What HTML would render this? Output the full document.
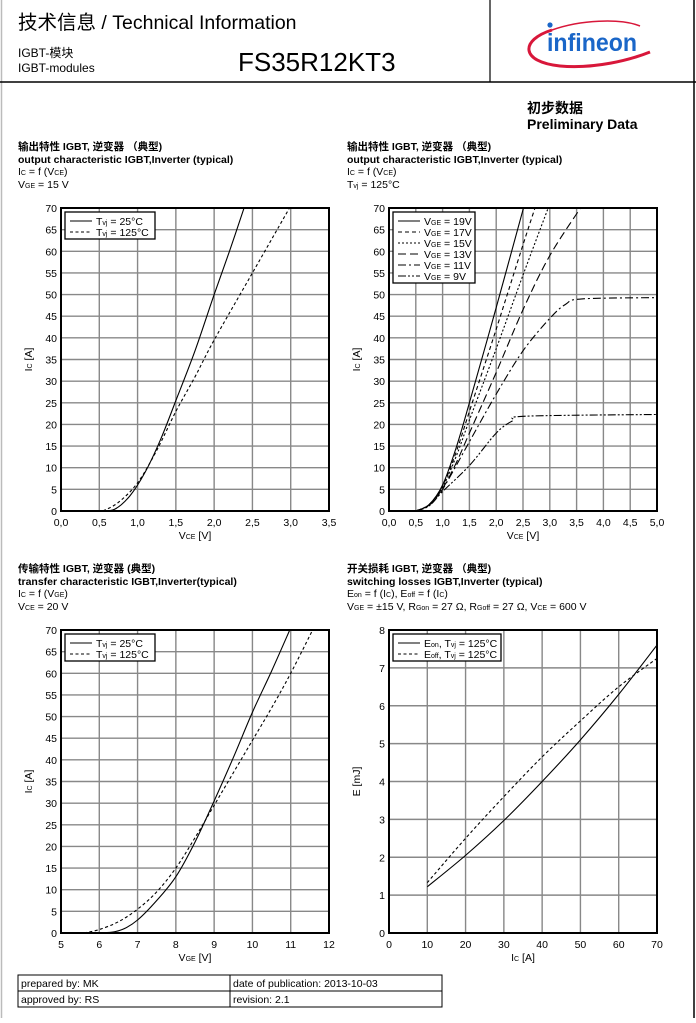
<!DOCTYPE html>
<html><head><meta charset="utf-8">
<style>
body{margin:0;background:#fff;}
svg text{font-family:"Liberation Sans","Noto Sans CJK SC",sans-serif;fill:#000;}
</style></head><body>
<svg id="s" xmlns="http://www.w3.org/2000/svg" width="696" height="1018" viewBox="0 0 696 1018">
<rect x="0" y="0" width="696" height="1018" fill="#fff"/>
<line x1="1.5" y1="0" x2="1.5" y2="1018" stroke="#bbb" stroke-width="1.5"/>
<line x1="694" y1="0" x2="694" y2="1018" stroke="#000" stroke-width="1.5"/>
<line x1="0" y1="82" x2="696" y2="82" stroke="#000" stroke-width="1.5"/>
<line x1="490" y1="0" x2="490" y2="82" stroke="#000" stroke-width="1.2"/>
<text x="18" y="29" font-size="19.5">技术信息 / Technical Information</text>
<text x="18" y="57" font-size="12">IGBT-模块</text>
<text x="18" y="72" font-size="12">IGBT-modules</text>
<text x="238" y="71" font-size="26">FS35R12KT3</text>
<path d="M552 30 C 520 40, 520 62, 560 66 C 595 69, 630 60, 650 52" fill="none" stroke="#d8173a" stroke-width="3"/>
<path d="M552 30 C 580 20, 620 18, 640 26" fill="none" stroke="#d8173a" stroke-width="1.5"/>
<circle cx="550" cy="25" r="2.6" fill="#1a66c8"/>
<text x="547" y="51" font-size="25" font-weight="bold" style="fill:#1a66c8" textLength="90" lengthAdjust="spacingAndGlyphs">infineon</text>
<text x="527" y="113" font-size="14" font-weight="bold">初步数据</text>
<text x="527" y="129" font-size="14" font-weight="bold">Preliminary Data</text>
<g font-size="10.5">
<text x="18" y="150" font-weight="bold">输出特性 IGBT, 逆变器 （典型)</text>
<text x="18" y="163" font-weight="bold">output characteristic IGBT,Inverter (typical)</text>
<text x="18" y="175">I<tspan font-size="7">C</tspan> = f (V<tspan font-size="7">CE</tspan>)</text>
<text x="18" y="188">V<tspan font-size="7">GE</tspan> = 15 V</text>
<text x="347" y="150" font-weight="bold">输出特性 IGBT, 逆变器 （典型)</text>
<text x="347" y="163" font-weight="bold">output characteristic IGBT,Inverter (typical)</text>
<text x="347" y="175">I<tspan font-size="7">C</tspan> = f (V<tspan font-size="7">CE</tspan>)</text>
<text x="347" y="188">T<tspan font-size="7">vj</tspan> = 125°C</text>
<text x="18" y="572" font-weight="bold">传输特性 IGBT, 逆变器 (典型)</text>
<text x="18" y="585" font-weight="bold">transfer characteristic  IGBT,Inverter(typical)</text>
<text x="18" y="597">I<tspan font-size="7">C</tspan> = f (V<tspan font-size="7">GE</tspan>)</text>
<text x="18" y="610">V<tspan font-size="7">CE</tspan> = 20 V</text>
<text x="347" y="572" font-weight="bold">开关损耗 IGBT, 逆变器 （典型)</text>
<text x="347" y="585" font-weight="bold">switching losses  IGBT,Inverter (typical)</text>
<text x="347" y="597">E<tspan font-size="7">on</tspan> = f (I<tspan font-size="7">C</tspan>), E<tspan font-size="7">off</tspan> = f (I<tspan font-size="7">C</tspan>)</text>
<text x="347" y="610">V<tspan font-size="7">GE</tspan> = ±15 V, R<tspan font-size="7">Gon</tspan> = 27 Ω, R<tspan font-size="7">Goff</tspan> = 27 Ω, V<tspan font-size="7">CE</tspan> = 600 V</text>
</g>
<g fill="none" stroke="#000" stroke-width="1">
<rect x="18" y="975" width="424" height="32"/>
<line x1="18" y1="991" x2="442" y2="991"/>
<line x1="230" y1="975" x2="230" y2="1007"/>
</g>
<g font-size="10.5">
<text x="21" y="987">prepared by: MK</text>
<text x="233" y="987">date of publication: 2013-10-03</text>
<text x="21" y="1003">approved by: RS</text>
<text x="233" y="1003">revision: 2.1</text>
</g>
<g id="charts"></g>
</svg>
<script>
var G=document.getElementById("charts"),out="";
function chart(o){
 var L=o.x,T=o.y,W=268,H=303;
 function X(v){return L+(v-o.xmin)/(o.xmax-o.xmin)*W;}
 function Y(v){return T+H-(v-o.ymin)/(o.ymax-o.ymin)*H;}
 var s="";
 o.xt.forEach(function(v,i){var x=X(v);s+='<line x1="'+x+'" y1="'+T+'" x2="'+x+'" y2="'+(T+H)+'" stroke="#888" stroke-width="1.4"/>';
  s+='<text x="'+x+'" y="'+(T+H+15)+'" font-size="10.5" text-anchor="middle">'+o.xl[i]+'</text>';});
 o.yt.forEach(function(v){var y=Y(v);s+='<line x1="'+L+'" y1="'+y+'" x2="'+(L+W)+'" y2="'+y+'" stroke="#888" stroke-width="1.4"/>';
  s+='<text x="'+(L-4)+'" y="'+(y+4)+'" font-size="10.5" text-anchor="end">'+v+'</text>';});
 s+='<rect x="'+L+'" y="'+T+'" width="'+W+'" height="'+H+'" fill="none" stroke="#000" stroke-width="2"/>';
 s+='<text x="'+(L+W/2)+'" y="'+(T+H+28)+'" font-size="10.5" text-anchor="middle">'+o.xlab+'</text>';
 s+='<text transform="translate('+(o.x-29)+','+(T+H/2)+') rotate(-90)" font-size="10.5" text-anchor="middle">'+o.ylab+'</text>';
 s+='<clipPath id="c'+L+T+'"><rect x="'+L+'" y="'+T+'" width="'+W+'" height="'+H+'"/></clipPath>';
 o.series.forEach(function(sr){
  var p=sr.p.map(function(q){return [X(q[0]),Y(q[1])];}),d="M"+p[0][0]+","+p[0][1];
  for(var i=0;i<p.length-1;i++){var p0=p[i-1]||p[i],p1=p[i],p2=p[i+1],p3=p[i+2]||p2;
   d+=" C"+(p1[0]+(p2[0]-p0[0])/6)+","+(p1[1]+(p2[1]-p0[1])/6)+" "+(p2[0]-(p3[0]-p1[0])/6)+","+(p2[1]-(p3[1]-p1[1])/6)+" "+p2[0]+","+p2[1];}
  s+='<path d="'+d+'" fill="none" stroke="#000" stroke-width="1.1" clip-path="url(#c'+L+T+')"'+(sr.da?' stroke-dasharray="'+sr.da+'"':'')+'/>';
 });
 var lx=L+4,ly=T+4,lw=o.lw,lh=o.series.length*11+5;
 s+='<rect x="'+lx+'" y="'+ly+'" width="'+lw+'" height="'+lh+'" fill="#fff" stroke="#000" stroke-width="1.3"/>';
 o.series.forEach(function(sr,i){var y=ly+9+i*11;
  s+='<line x1="'+(lx+5)+'" y1="'+y+'" x2="'+(lx+27)+'" y2="'+y+'" stroke="#000" stroke-width="1.1"'+(sr.da?' stroke-dasharray="'+sr.da+'"':'')+'/>';
  s+='<text x="'+(lx+31)+'" y="'+(y+4)+'" font-size="10.5">'+sr.n+'</text>';});
 out+=s;
}
function r(a,b,st){var z=[];for(var v=a;v<=b+1e-9;v+=st)z.push(+v.toFixed(2));return z;}
function c(z){return z.map(function(v){return v.toFixed(1).replace(".",",");});}
var t25='T<tspan font-size="7">vj</tspan> = 25°C',t125='T<tspan font-size="7">vj</tspan> = 125°C';
var IC='I<tspan font-size="7">C</tspan> [A]';
var xa=r(0,3.5,0.5);
chart({x:61,y:208,xmin:0,xmax:3.5,ymin:0,ymax:70,xt:xa,xl:c(xa),yt:r(0,70,5),lw:90,
 xlab:'V<tspan font-size="7">CE</tspan> [V]',ylab:IC,
 series:[{n:t25,p:[[0.5,0],[0.7,0.4],[0.9,3.5],[1.1,9],[1.3,16.5],[1.5,25.5],[1.75,37],[2.0,50],[2.2,60],[2.4,70.5]]},
 {n:t125,da:"3,2.5",p:[[0.55,0],[0.75,2],[1.0,6.5],[1.25,14],[1.5,23],[1.75,31],[2.0,39.5],[2.5,55],[3.0,70.5]]}]});
var xb=r(0,5,0.5);
var vg=function(n){return 'V<tspan font-size="7">GE</tspan> = '+n+'V';};
chart({x:389,y:208,xmin:0,xmax:5,ymin:0,ymax:70,xt:xb,xl:c(xb),yt:r(0,70,5),lw:82,
 xlab:'V<tspan font-size="7">CE</tspan> [V]',ylab:IC,
 series:[{n:vg(19),p:[[0.5,0],[0.75,1.5],[1,6],[1.25,14.5],[1.5,25],[2,47],[2.52,70.5]]},
 {n:vg(17),da:"4,3",p:[[0.5,0],[0.75,1.5],[1,5.8],[1.25,13.5],[1.5,23],[2,42],[2.5,61.5],[2.75,71]]},
 {n:vg(15),da:"2,2",p:[[0.5,0],[0.75,1.5],[1,5.5],[1.25,12.5],[1.5,21],[2,37.5],[2.5,54.5],[3.0,71]]},
 {n:vg(13),da:"8,4",p:[[0.5,0],[0.75,1.4],[1,5.2],[1.25,11],[1.5,18],[2,32],[2.5,46.5],[3,59],[3.6,70.5]]},
 {n:vg(11),da:"8,3,2,3",p:[[0.5,0],[0.75,1.3],[1,5],[1.5,16],[2,27],[2.5,37],[3,44.5],[3.3,47.8],[3.6,49],[5,49.3]]},
 {n:vg(9),da:"8,2,2,2,2,2",p:[[0.5,0],[0.75,1.2],[1,4.5],[1.5,10.5],[2,18],[2.3,20.8],[2.55,21.9],[5,22.3]]}]});
var xc=r(5,12,1);
chart({x:61,y:630,xmin:5,xmax:12,ymin:0,ymax:70,xt:xc,xl:xc,yt:r(0,70,5),lw:90,
 xlab:'V<tspan font-size="7">GE</tspan> [V]',ylab:IC,
 series:[{n:t25,p:[[5.6,0],[6.2,0.1],[6.6,0.8],[7,3],[7.5,7.5],[8,13],[8.5,21],[9,30.5],[9.5,40.5],[10,51],[10.5,60.5],[11,70.5]]},
 {n:t125,da:"3,2.5",p:[[5.6,0],[6,0.8],[6.5,2.6],[7,5.5],[7.5,9.5],[8,15],[8.5,22],[9,29.5],[9.5,37],[10,44.5],[10.5,52],[11,60],[11.6,70.5]]}]});
var xd=r(0,70,10);
chart({x:389,y:630,xmin:0,xmax:70,ymin:0,ymax:8,xt:xd,xl:xd,yt:r(0,8,1),lw:108,
 xlab:'I<tspan font-size="7">C</tspan> [A]',ylab:'E [mJ]',
 series:[{n:'E<tspan font-size="7">on</tspan>, T<tspan font-size="7">vj</tspan> = 125°C',p:[[10,1.22],[20,2.05],[30,2.97],[40,4.0],[50,5.1],[60,6.3],[70,7.6]]},
 {n:'E<tspan font-size="7">off</tspan>, T<tspan font-size="7">vj</tspan> = 125°C',da:"3,2.5",p:[[10,1.33],[20,2.5],[30,3.6],[40,4.65],[50,5.6],[60,6.5],[70,7.25]]}]});
G.innerHTML=out;
</script>
</body></html>
